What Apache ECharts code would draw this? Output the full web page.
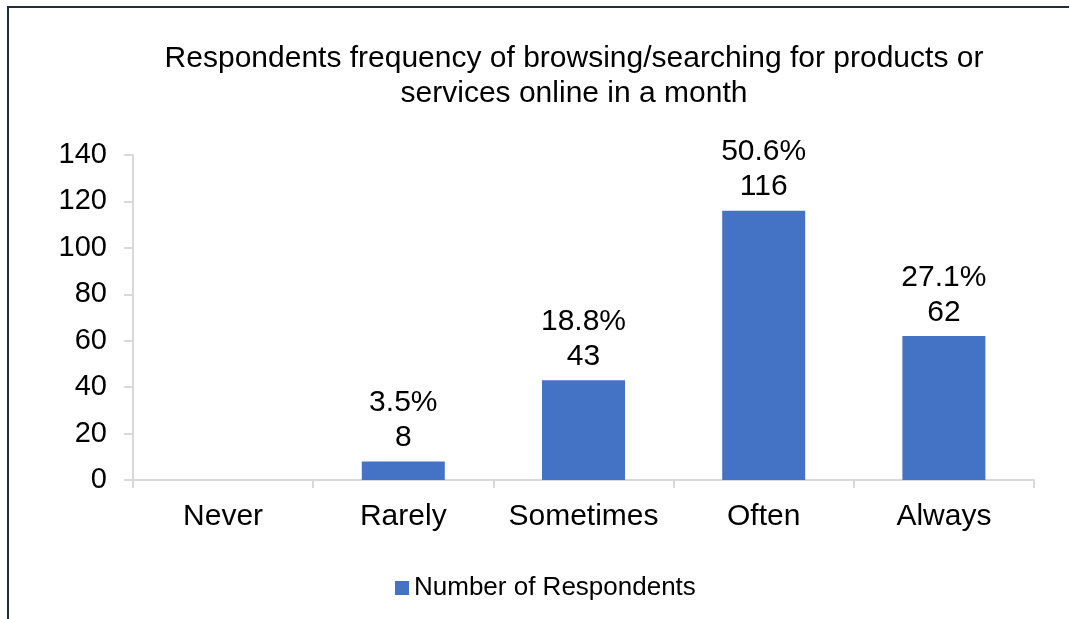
<!DOCTYPE html>
<html>
<head>
<meta charset="utf-8">
<script src="https://cdn.jsdelivr.net/npm/echarts@6/dist/echarts.min.js"></script>
<style>
  html, body { margin: 0; padding: 0; background: #fff; }
  #chart { width: 1070px; height: 619px; position: relative; }
  #frame { position: absolute; left: 7px; top: 6px; width: 1060px; height: 613px;
           border-left: 2px solid #1f2d38; border-top: 2px solid #1f2d38; pointer-events: none; }
</style>
</head>
<body>
<div id="chart"></div>
<div id="frame"></div>
<script>
// Survey answers: how often respondents browse/search for products or services online
const categories = ['Never', 'Rarely', 'Sometimes', 'Often', 'Always'];
const respondents = [0, 8, 43, 116, 62];
const shares = ['0.0%', '3.5%', '18.8%', '50.6%', '27.1%'];
const yTicks = [0, 20, 40, 60, 80, 100, 120, 140];

const font = '"Liberation Sans", Arial, sans-serif';
const chart = echarts.init(document.getElementById('chart'));

chart.setOption({
  animation: false,
  title: {
    text: 'Respondents frequency of browsing/searching for products or\nservices online in a month',
    left: 569,
    textAlign: 'center',
    top: 36,
    textStyle: { fontFamily: font, fontSize: 30, fontWeight: 'normal', color: '#000', lineHeight: 35 }
  },
  legend: {
    data: ['Number of Respondents'],
    top: 570,
    left: 390,
    itemWidth: 14,
    itemHeight: 14,
    itemGap: 6,
    icon: 'rect',
    textStyle: { fontFamily: font, fontSize: 26, color: '#000' }
  },
  grid: { left: 133, right: 36, top: 155, bottom: 139 },
  xAxis: {
    type: 'category',
    data: categories,
    axisLine: { show: true, lineStyle: { color: '#d9d9d9', width: 2 } },
    axisTick: { show: true, alignWithLabel: false, length: 8, lineStyle: { color: '#d9d9d9', width: 2 } },
    axisLabel: { interval: 0, fontFamily: font, fontSize: 30, color: '#000', margin: 22 }
  },
  yAxis: {
    type: 'value',
    min: yTicks[0],
    max: yTicks[yTicks.length - 1],
    interval: 20,
    splitLine: { show: false },
    axisLine: { show: true, lineStyle: { color: '#d9d9d9', width: 2 } },
    axisTick: { show: true, length: 9, lineStyle: { color: '#d9d9d9', width: 2 } },
    axisLabel: { fontFamily: font, fontSize: 29, color: '#000', margin: 26 }
  },
  series: [{
    name: 'Number of Respondents',
    type: 'bar',
    data: respondents,
    barWidth: 83,
    itemStyle: { color: '#4472c4' },
    label: {
      show: true,
      position: 'top',
      distance: 6,
      fontFamily: font,
      fontSize: 30,
      lineHeight: 35,
      color: '#000',
      formatter: p => p.value > 0 ? shares[p.dataIndex] + '\n' + p.value : ''
    }
  }]
});
</script>
</body>
</html>
